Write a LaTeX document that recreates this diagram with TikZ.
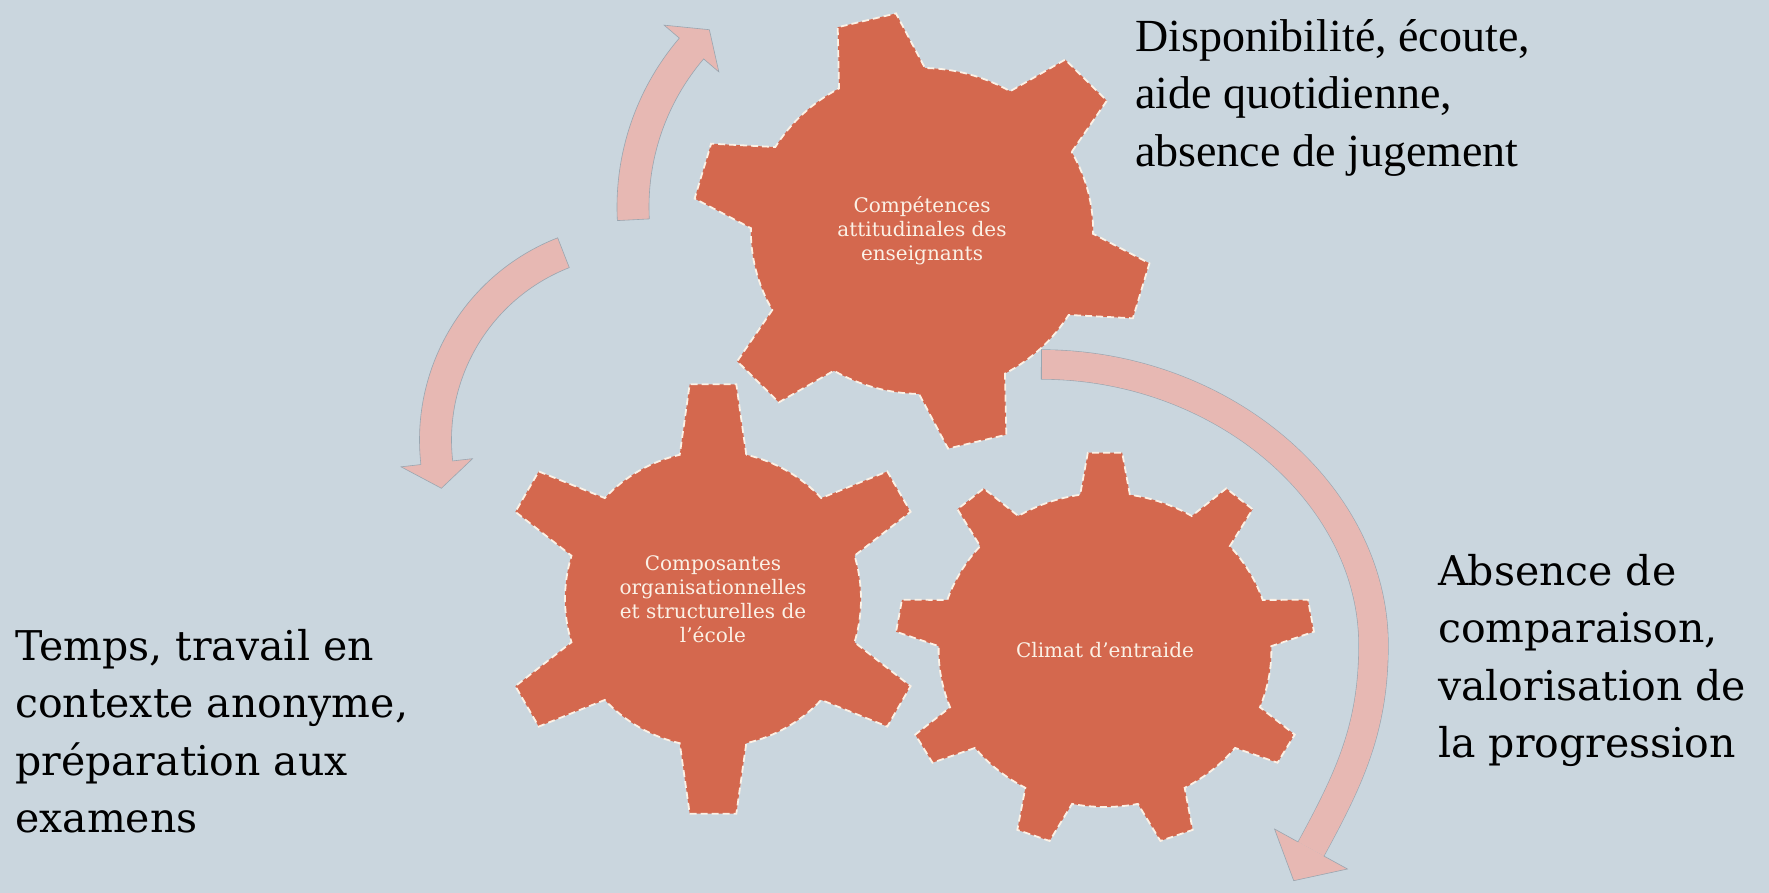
\documentclass[tikz,border=0pt]{standalone}
\usepackage{fontspec}
\setmainfont{DejaVu Serif}
\newfontfamily\timesfont{Liberation Serif}
\usetikzlibrary{positioning,calc}

\definecolor{bgblue}{HTML}{CAD6DE}
\definecolor{gearred}{HTML}{D4684E}
\definecolor{dashcream}{HTML}{FBF1E6}
\definecolor{arrowpink}{HTML}{E7B8B3}
\definecolor{arrowedge}{HTML}{9AA6B0}

% center, teeth, first tooth angle, inner r, outer r, base half angle, tip half angle, xscale
\newcommand{\drawgear}[8]{%
  \begin{scope}[shift={#1}, xscale=#8]
    \filldraw[gear] ({#3-#6}:#4)
      \foreach \k in {1,...,#2} {
        -- ({#3+(\k-1)*360/#2-#7}:#5) -- ({#3+(\k-1)*360/#2+#7}:#5)
        -- ({#3+(\k-1)*360/#2+#6}:#4)
        arc[start angle={#3+(\k-1)*360/#2+#6}, end angle={#3+\k*360/#2-#6}, radius=#4]
      } -- cycle;
  \end{scope}}

% center, radius, half width, head half width, start, head base, tip
\newcommand{\curvedarrow}[7]{%
  \filldraw[bigarrow, shift={#1}] (#5:{#2+#3})
    arc[start angle=#5, end angle=#6, radius={#2+#3}]
    -- (#6:{#2+#4}) -- (#7:#2) -- (#6:{#2-#4}) -- (#6:{#2-#3})
    arc[start angle=#6, end angle=#5, radius={#2-#3}] -- cycle;}

\begin{document}
\begin{tikzpicture}[x=1pt, y=1pt,
    gear/.style={fill=gearred, draw=dashcream, line width=1.8pt, dash pattern=on 7pt off 4pt},
    bigarrow/.style={fill=arrowpink, draw=arrowedge, line width=0.6pt},
    geartext/.style={text=dashcream, align=center, font=\fontsize{20}{24}\selectfont},
    sidetext/.style={anchor=north west, inner sep=0pt, align=left, text=black,
      font=\fontsize{41}{57.5}\selectfont}]
  \fill[bgblue] (0,0) rectangle (1769,893);
  \useasboundingbox (0,0) rectangle (1769,893);

  % curved arrows
  \curvedarrow{(877,686)}{244}{16}{36}{183}{139.5}{133.4}
  \curvedarrow{(636.5,453)}{201}{16}{36}{111.3}{186.5}{193.9}

  % big arrow on the right
  \coordinate (tailC) at (1041,528.5);
  \coordinate (sideC) at (1373.5,248);
  \coordinate (baseC) at (1311,44);
  \coordinate (tipC) at (1293.7,12.3);
  \coordinate (barbCo) at (1347.5,24);
  \coordinate (barbCi) at (1274.5,64);
  \coordinate (edgeCo) at (1323.8,37);
  \coordinate (edgeCi) at (1298.2,51);
  \draw[arrowedge, line width=0.6pt, double=arrowpink, double distance=29pt]
    (tailC) .. controls (1222,528.5) and (1373.5,399) .. (sideC)
    .. controls (1373.5,165) and (1349.4,114.4) .. (baseC);
  \fill[arrowpink] (barbCo) -- (tipC) -- (barbCi) -- cycle;
  \draw[arrowedge, line width=0.6pt] (edgeCo) -- (barbCo) -- (tipC) -- (barbCi) -- (edgeCi);
  \draw[arrowedge, line width=0.6pt] ($(tailC)+(0,15)$) -- ($(tailC)+(0,-15)$);

  % gears
  \drawgear{(922,662)}{6}{44}{163}{219}{15}{7.5}{1.05}
  \drawgear{(713,294)}{6}{90}{148}{216}{13}{6.2}{1}
  \drawgear{(1105,243)}{9}{90}{157}{198}{8.6}{4.7}{1.06}

  \node[geartext] (compet) at (922,662) {Compétences\\attitudinales des\\enseignants};
  \node[geartext] (compos) at (713,294) {Composantes\\organisationnelles\\et structurelles de\\l’école};
  \node[geartext] (climat) at (1105,243) {Climat d’entraide};

  % descriptions
  \node[sidetext, font=\timesfont\fontsize{46}{57.5}\selectfont] (dispo) at (1135,874)
    {Disponibilité, écoute,\\aide quotidienne,\\absence de jugement};
  \node[sidetext] (temps) at (15,264)
    {Temps, travail en\\contexte anonyme,\\préparation aux\\examens};
  \node[sidetext] (absence) at (1438,339)
    {Absence de\\comparaison,\\valorisation de\\la progression};
\end{tikzpicture}
\end{document}
